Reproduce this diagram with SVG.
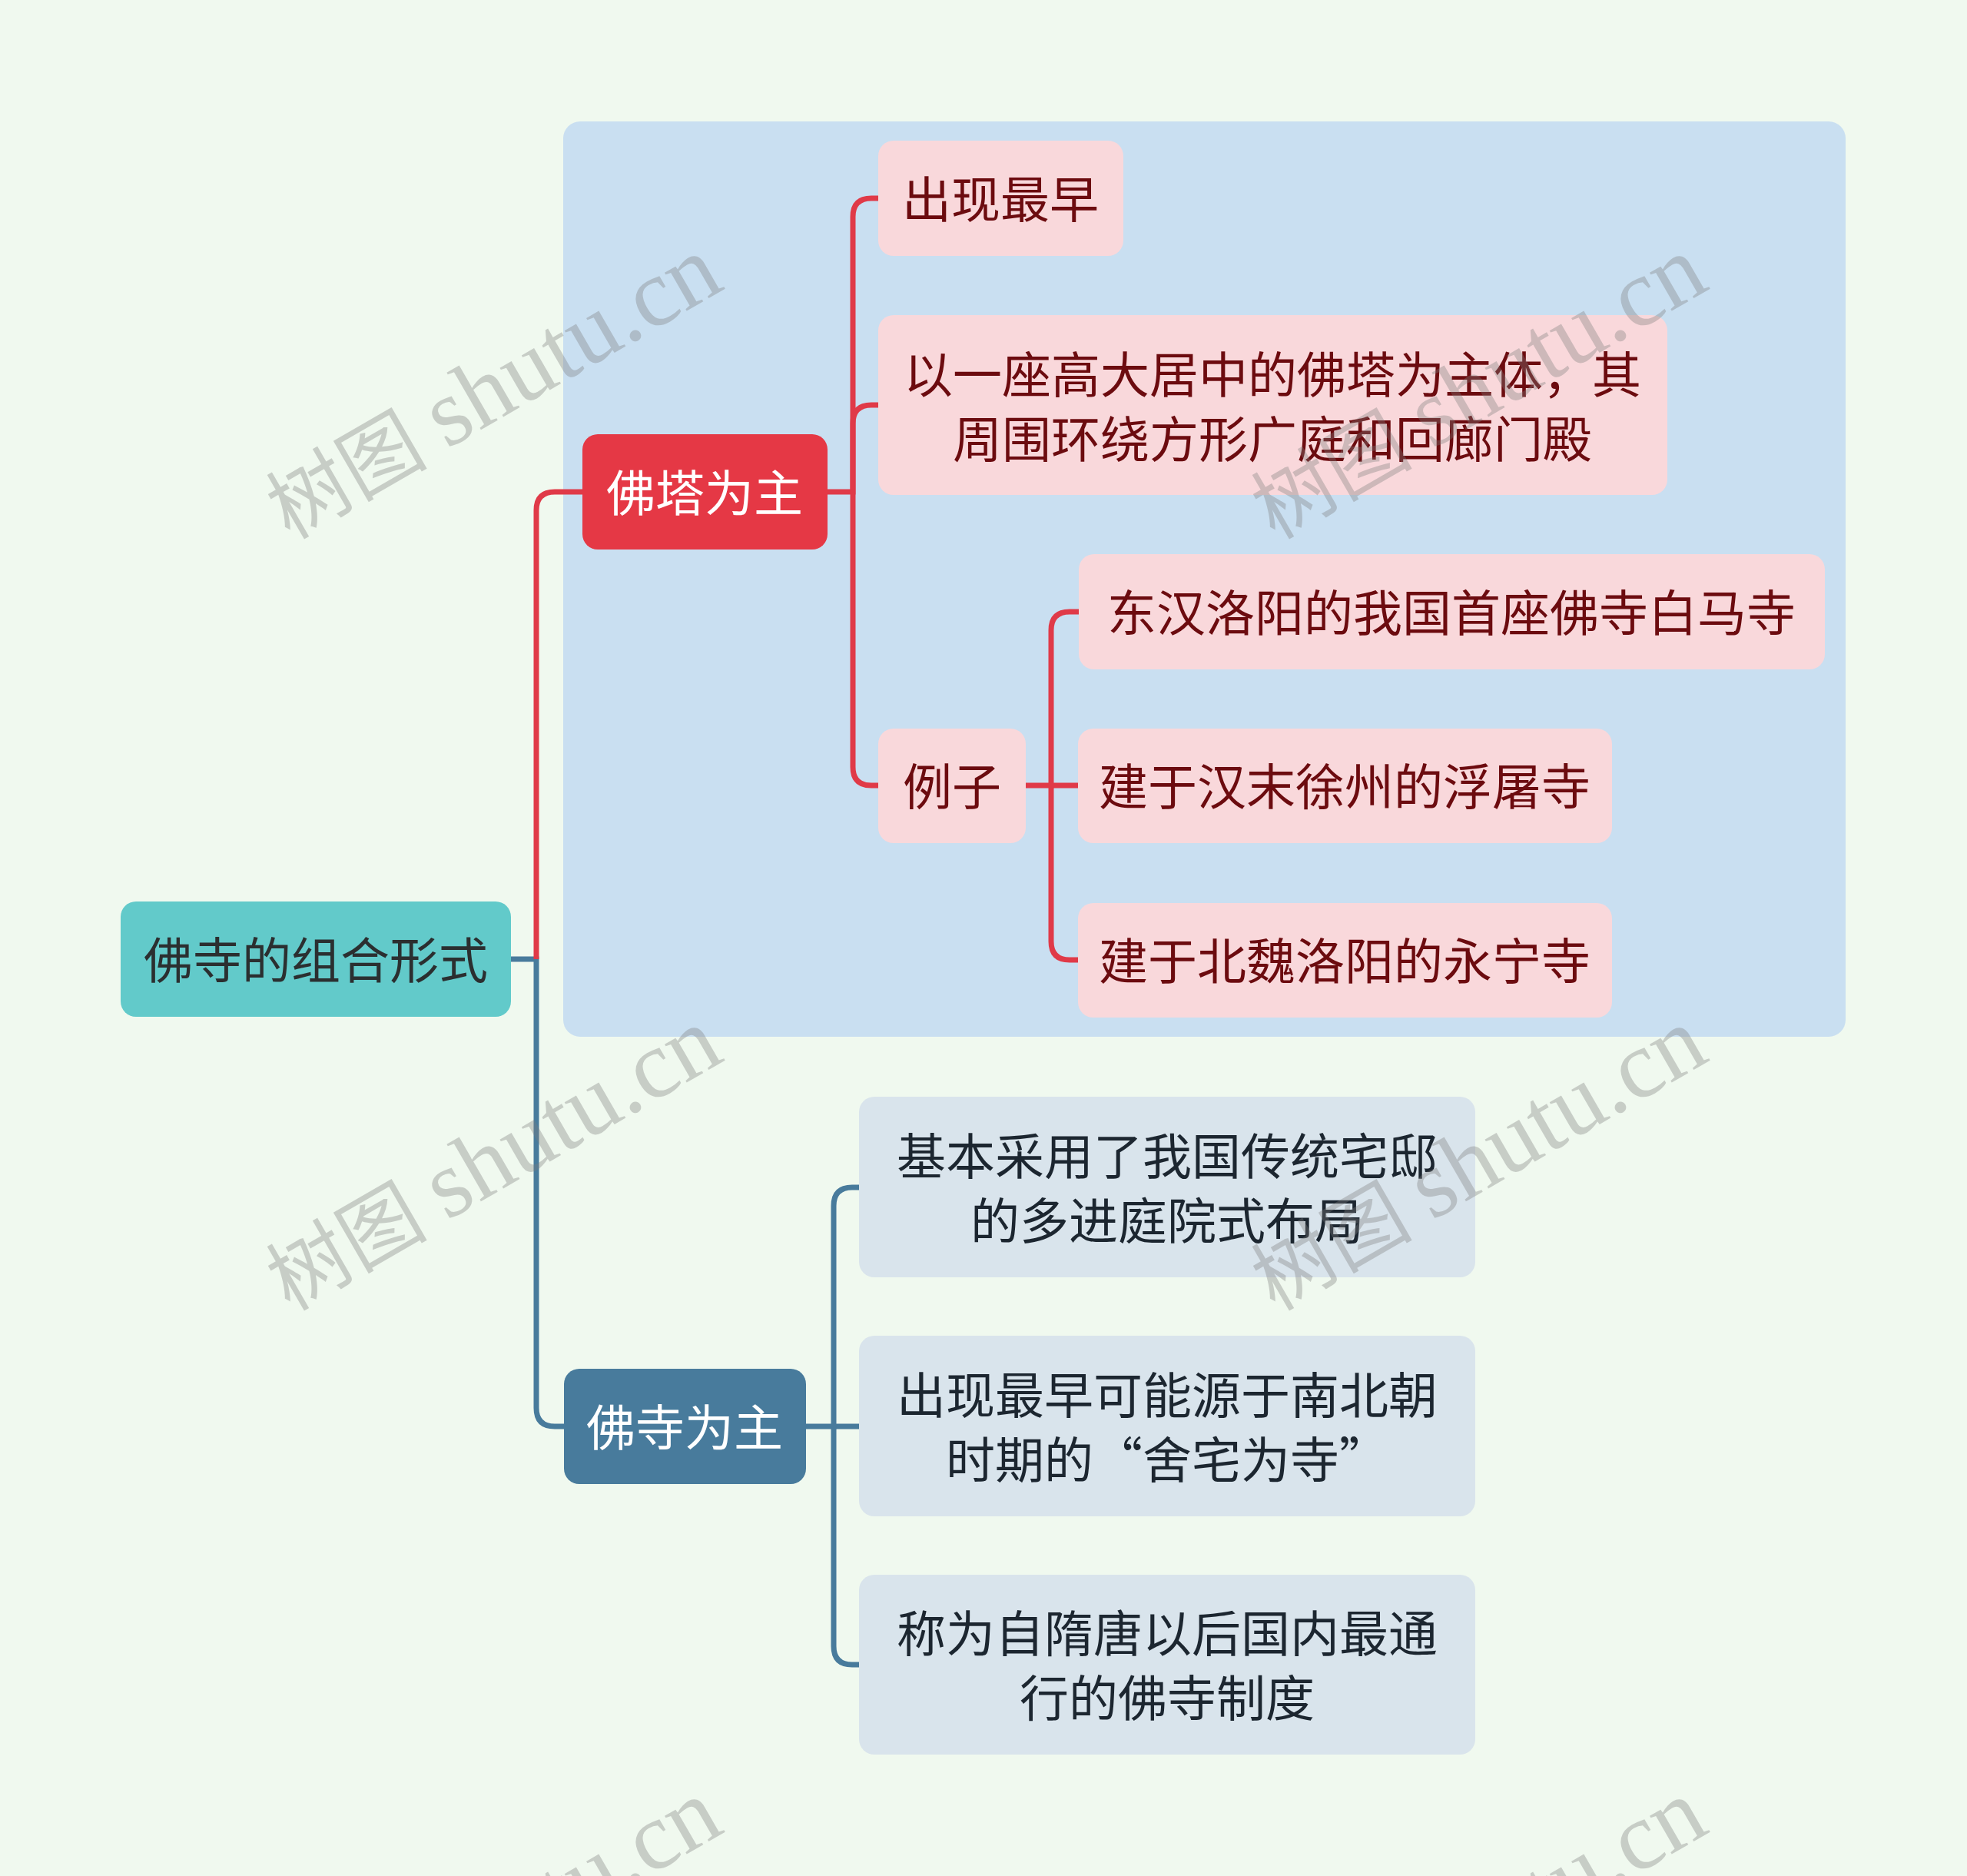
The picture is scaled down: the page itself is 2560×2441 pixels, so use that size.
<svg xmlns="http://www.w3.org/2000/svg" width="2560" height="2441" viewBox="0 0 2560 2441">
<style>
text { font-family: "Noto Sans CJK SC", "Noto Sans", sans-serif; font-size: 64px; text-anchor: middle; dominant-baseline: central; }
.root rect { fill: #62caca; }
.root text { fill: #2b2f30; }
.red rect { fill: #e53845; }
.red text { fill: #ffffff; }
.pink rect { fill: #f9d8db; }
.pink text { fill: #6c0b0f; }
.blue rect { fill: #487b9c; }
.blue text { fill: #ffffff; }
.grey rect { fill: #d9e4ec; }
.grey text { fill: #1c2630; }
.lr { fill: none; stroke: #e03a48; stroke-width: 7; }
.lb { fill: none; stroke: #487b9c; stroke-width: 7; }
.wm { font-family: "Liberation Serif", "Noto Sans CJK SC", serif; fill: #7d7d7d; opacity: 0.35; text-anchor: start; dominant-baseline: alphabetic; }
</style>
<rect x="0" y="0" width="2560" height="2441" fill="#f0f9ef"/>
<rect id="boundary" x="733" y="158" width="1669" height="1191" rx="22" fill="#c9dff1"/>

<g id="connectors">
  <path class="lb" d="M665,1248 H698 V1832 Q698,1856 722,1856 H734"/>
  <path class="lr" d="M698,1248 V664 Q698,640 722,640 H758"/>
  <path class="lr" d="M1077,640 H1110 V282 Q1110,258 1134,258 H1143"/>
  <path class="lr" d="M1110,640 V551 Q1110,527 1134,527 H1143"/>
  <path class="lr" d="M1110,640 V998 Q1110,1022 1134,1022 H1143"/>
  <path class="lr" d="M1335,1022 H1368 V820 Q1368,796 1392,796 H1404"/>
  <path class="lr" d="M1368,1022 H1403"/>
  <path class="lr" d="M1368,1022 V1225 Q1368,1249 1392,1249 H1403"/>
  <path class="lb" d="M1049,1856 H1085 V1569 Q1085,1545 1109,1545 H1118"/>
  <path class="lb" d="M1085,1856 H1118"/>
  <path class="lb" d="M1085,1856 V2142 Q1085,2166 1109,2166 H1118"/>
</g>

<g id="root" class="root">
  <rect x="157" y="1173" width="508" height="150" rx="20"/>
  <text x="411" y="1245">佛寺的组合形式</text>
</g>
<g id="n-fota" class="red">
  <rect x="758" y="565" width="319" height="150" rx="20"/>
  <text x="917" y="637">佛塔为主</text>
</g>
<g id="n-zuizao" class="pink">
  <rect x="1143" y="183" width="319" height="150" rx="20"/>
  <text x="1302" y="255">出现最早</text>
</g>
<g id="n-yizuo" class="pink">
  <rect x="1143" y="410" width="1027" height="234" rx="20"/>
  <text x="1656" y="483">以一座高大居中的佛塔为主体，其</text>
  <text x="1656" y="567">周围环绕方形广庭和回廊门殿</text>
</g>
<g id="n-lizi" class="pink">
  <rect x="1143" y="948" width="192" height="149" rx="20"/>
  <text x="1239" y="1019">例子</text>
</g>
<g id="n-baima" class="pink">
  <rect x="1404" y="721" width="971" height="150" rx="20"/>
  <text x="1889" y="793">东汉洛阳的我国首座佛寺白马寺</text>
</g>
<g id="n-futu" class="pink">
  <rect x="1403" y="948" width="695" height="149" rx="20"/>
  <text x="1750" y="1019">建于汉末徐州的浮屠寺</text>
</g>
<g id="n-yongning" class="pink">
  <rect x="1403" y="1175" width="695" height="149" rx="20"/>
  <text x="1750" y="1246">建于北魏洛阳的永宁寺</text>
</g>
<g id="n-fosi" class="blue">
  <rect x="734" y="1781" width="315" height="150" rx="20"/>
  <text x="891" y="1853">佛寺为主</text>
</g>
<g id="n-jiben" class="grey">
  <rect x="1118" y="1427" width="802" height="235" rx="20"/>
  <text x="1519" y="1500">基本采用了我国传统宅邸</text>
  <text x="1519" y="1584">的多进庭院式布局</text>
</g>
<g id="n-chuxian" class="grey">
  <rect x="1118" y="1738" width="802" height="235" rx="20"/>
  <text x="1519" y="1811">出现最早可能源于南北朝</text>
  <text x="1519" y="1895">时期的“舍宅为寺”</text>
</g>
<g id="n-chengwei" class="grey">
  <rect x="1118" y="2049" width="802" height="234" rx="20"/>
  <text x="1519" y="2121">称为自隋唐以后国内最通</text>
  <text x="1519" y="2205">行的佛寺制度</text>
</g>

<g id="watermarks">
  <text class="wm" transform="translate(377,703) rotate(-30)"><tspan font-size="105">树图 </tspan><tspan font-size="125">shutu.cn</tspan></text>
  <text class="wm" transform="translate(1659,703) rotate(-30)"><tspan font-size="105">树图 </tspan><tspan font-size="125">shutu.cn</tspan></text>
  <text class="wm" transform="translate(377,1707) rotate(-30)"><tspan font-size="105">树图 </tspan><tspan font-size="125">shutu.cn</tspan></text>
  <text class="wm" transform="translate(1659,1707) rotate(-30)"><tspan font-size="105">树图 </tspan><tspan font-size="125">shutu.cn</tspan></text>
  <text class="wm" transform="translate(377,2711) rotate(-30)"><tspan font-size="105">树图 </tspan><tspan font-size="125">shutu.cn</tspan></text>
  <text class="wm" transform="translate(1659,2711) rotate(-30)"><tspan font-size="105">树图 </tspan><tspan font-size="125">shutu.cn</tspan></text>
</g>
</svg>
